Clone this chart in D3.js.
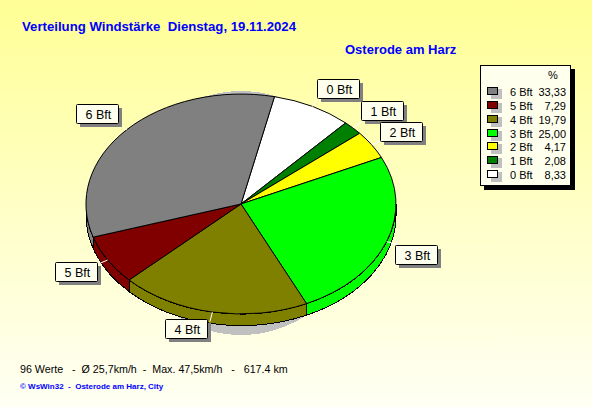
<!DOCTYPE html>
<html>
<head>
<meta charset="utf-8">
<script src="https://cdn.jsdelivr.net/npm/d3@7/dist/d3.min.js"></script>
<style>
  html, body { margin: 0; padding: 0; background: #fff; }
  svg { display: block; }
  text { font-family: "Liberation Sans", Arial, sans-serif; }
</style>
</head>
<body>
<div id="container"></div>
<script>
// Verteilung Windstaerke
const categories = ['0 Bft', '1 Bft', '2 Bft', '3 Bft', '4 Bft', '5 Bft', '6 Bft'];
const percents   = [8.33, 2.08, 4.17, 25.00, 19.79, 7.29, 33.33];
const colors     = ['#ffffff', '#008000', '#ffff00', '#00ff00', '#808000', '#800000', '#808080'];
const legendOrder = ['6 Bft', '5 Bft', '4 Bft', '3 Bft', '2 Bft', '1 Bft', '0 Bft'];

const titleText = 'Verteilung Windst\u00e4rke\u00a0\u00a0Dienstag, 19.11.2024';
const placeText = 'Osterode am Harz';
const statsText = '96 Werte\u00a0\u00a0\u00a0-\u00a0\u00a0\u00d8 25,7km/h\u00a0\u00a0-\u00a0\u00a0Max. 47,5km/h\u00a0\u00a0\u00a0-\u00a0\u00a0\u00a0617.4 km';
const creditText = '\u00a9 WsWin32\u00a0\u00a0-\u00a0\u00a0Osterode am Harz, City';

// layout
const W = 592, H = 407;
const cx = 241, cy = 204, rx = 155, ry = 110, depth = 11.5;
const rotation = 12.5 * Math.PI / 180;
// left/top corner of each callout box
const calloutPos = {
  '0 Bft': [317, 79], '1 Bft': [361, 101], '2 Bft': [380, 122], '3 Bft': [395, 245],
  '4 Bft': [165, 319], '5 Bft': [55, 262], '6 Bft': [76, 104],
};

const fmt = (v) => v.toFixed(2).replace('.', ',');
const color = d3.scaleOrdinal(categories, colors);
const valueOf = (c) => percents[categories.indexOf(c)];

const svg = d3.select('#container').append('svg').attr('width', W).attr('height', H);

const grad = svg.append('defs').append('linearGradient')
  .attr('id', 'bg').attr('x1', 0).attr('y1', 0).attr('x2', 0).attr('y2', 1);
grad.append('stop').attr('offset', '0%').attr('stop-color', '#ffff96');
grad.append('stop').attr('offset', '100%').attr('stop-color', '#fffff4');
svg.append('rect').attr('width', W).attr('height', H).attr('fill', 'url(#bg)');

// titles
svg.append('text').attr('x', 22).attr('y', 31).attr('fill', '#0000ff')
  .attr('font-size', 13.2).attr('font-weight', 700).text(titleText);
svg.append('text').attr('x', 345).attr('y', 54).attr('fill', '#0000ff')
  .attr('font-size', 13).attr('font-weight', 700).text(placeText);

// pie
const slices = d3.pie().sort(null).value((d) => d.value)
  .startAngle(rotation).endAngle(rotation + 2 * Math.PI)(
    categories.map((c, i) => ({ name: c, value: percents[i] }))
  );
const px = (a, r = 1) => cx + rx * r * Math.sin(a);
const py = (a, r = 1) => cy - ry * r * Math.cos(a);

// soft shadow behind the pie
svg.append('ellipse').attr('cx', cx).attr('cy', cy + 9).attr('rx', 120).attr('ry', 122)
  .attr('fill', '#c0c0c0').attr('shape-rendering', 'crispEdges');

// rim, only the part that faces the viewer
const sidePath = (d) => {
  const a0 = Math.max(d.startAngle, Math.PI / 2);
  const a1 = Math.min(d.endAngle, 1.5 * Math.PI);
  if (a1 <= a0) return null;
  return `M${px(a0)},${py(a0)} A${rx},${ry} 0 0 1 ${px(a1)},${py(a1)}` +
    ` L${px(a1)},${py(a1) + depth} A${rx},${ry} 0 0 0 ${px(a0)},${py(a0) + depth} Z`;
};
svg.append('g').selectAll('path').data(slices.filter(sidePath)).join('path')
  .attr('d', sidePath)
  .attr('fill', (d) => color(d.data.name))
  .attr('stroke', '#000').attr('stroke-width', 1)
  .attr('shape-rendering', 'crispEdges');

// top face, unit arc squashed into an ellipse
const arc = d3.arc().innerRadius(0).outerRadius(1);
svg.append('g').attr('transform', `translate(${cx},${cy}) scale(${rx},${ry})`)
  .selectAll('path').data(slices).join('path')
  .attr('d', arc)
  .attr('fill', (d) => color(d.data.name))
  .attr('stroke', '#000').attr('stroke-width', 1)
  .attr('vector-effect', 'non-scaling-stroke')
  .attr('shape-rendering', 'crispEdges');

// white leader lines
const mid = (d) => (d.startAngle + d.endAngle) / 2;
svg.append('g').selectAll('line').data(slices).join('line')
  .attr('x1', (d) => px(mid(d))).attr('y1', (d) => py(mid(d)))
  .attr('x2', (d) => px(mid(d), 1.09)).attr('y2', (d) => py(mid(d), 1.09))
  .attr('stroke', '#ffffff').attr('stroke-width', 1);

// callouts
const boxW = 42, boxH = 19;
const callouts = svg.append('g').selectAll('g').data(slices).join('g')
  .attr('transform', (d) => `translate(${calloutPos[d.data.name]})`);
callouts.append('rect').attr('x', 4).attr('y', 4).attr('width', boxW).attr('height', boxH)
  .attr('fill', '#808080');
callouts.append('rect').attr('x', 0.5).attr('y', 0.5).attr('width', boxW).attr('height', boxH)
  .attr('rx', 1).attr('fill', '#ffffee').attr('stroke', '#000');
callouts.append('text').attr('x', 9.5).attr('y', 15).attr('font-size', 12.5).attr('fill', '#000')
  .text((d) => d.data.name);

// legend
const row = d3.scaleLinear().domain([0, 6]).range([92, 175]);
const legend = svg.append('g');
legend.append('rect').attr('x', 484).attr('y', 69).attr('width', 91).attr('height', 121).attr('fill', '#000');
legend.append('rect').attr('x', 480.5).attr('y', 65.5).attr('width', 90).attr('height', 120)
  .attr('fill', '#ffffee').attr('stroke', '#000');
legend.append('text').attr('x', 553).attr('y', 79).attr('text-anchor', 'middle')
  .attr('font-size', 11).text('%');
const rows = legend.selectAll('g.row').data(legendOrder).join('g').attr('class', 'row')
  .attr('transform', (d, i) => `translate(0,${Math.round(row(i))})`);
rows.append('rect').attr('x', 491).attr('y', -3).attr('width', 11).attr('height', 10).attr('fill', '#c0c0c0');
rows.append('rect').attr('x', 487.5).attr('y', -4.5).attr('width', 10).attr('height', 7)
  .attr('fill', (d) => color(d)).attr('stroke', '#000');
rows.append('text').attr('x', 510).attr('y', 4).attr('font-size', 11).text((d) => d);
rows.append('text').attr('x', 566).attr('y', 4).attr('text-anchor', 'end').attr('font-size', 11)
  .text((d) => fmt(valueOf(d)));

// footer
svg.append('text').attr('x', 20).attr('y', 373).attr('font-size', 10.7).attr('fill', '#000').text(statsText);
svg.append('text').attr('x', 20).attr('y', 389).attr('font-size', 8).attr('font-weight', 700)
  .attr('fill', '#0000ff').text(creditText);
</script>
</body>
</html>
